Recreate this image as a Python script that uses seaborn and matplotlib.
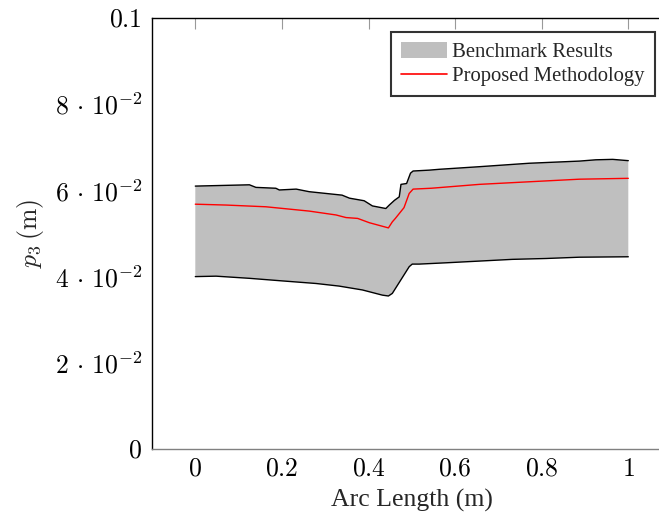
import numpy as np
import pandas as pd
import matplotlib
matplotlib.use("Agg")
import matplotlib.pyplot as plt
import seaborn as sns
from matplotlib.patches import Patch
from matplotlib.lines import Line2D

# Upper bound of benchmark band
upper_x = [0.0, 0.125, 0.140, 0.186, 0.194, 0.233, 0.263, 0.339, 0.356, 0.390, 0.409,
           0.440, 0.448, 0.460, 0.471, 0.475, 0.488, 0.497, 0.503, 0.540, 0.564, 0.656,
           0.771, 0.887, 0.925, 0.964, 1.0]
upper_y = [0.0610, 0.0613, 0.0607, 0.0605, 0.0601, 0.0603, 0.0597, 0.0589, 0.0582, 0.0576, 0.0564,
           0.0558, 0.0566, 0.0577, 0.0585, 0.0614, 0.0616, 0.0640, 0.0645, 0.0647, 0.0649, 0.0655,
           0.0663, 0.0668, 0.0671, 0.0672, 0.0669]
# Lower bound of benchmark band
lower_x = [0.0, 0.048, 0.125, 0.201, 0.279, 0.332, 0.386, 0.432, 0.446, 0.455, 0.494,
           0.501, 0.517, 0.579, 0.656, 0.732, 0.810, 0.887, 1.0]
lower_y = [0.0400, 0.0401, 0.0396, 0.0390, 0.0384, 0.0378, 0.0369, 0.0357, 0.0355, 0.0361, 0.0423,
           0.0429, 0.0429, 0.0432, 0.0436, 0.0440, 0.0442, 0.0445, 0.0446]
# Proposed methodology
prop_x = [0.0, 0.071, 0.163, 0.263, 0.325, 0.348, 0.375, 0.402, 0.446, 0.455, 0.462,
          0.482, 0.494, 0.503, 0.545, 0.656, 0.771, 0.887, 1.0]
prop_y = [0.0568, 0.0566, 0.0562, 0.0552, 0.0543, 0.0537, 0.0535, 0.0525, 0.0513, 0.0527, 0.0535,
          0.0560, 0.0593, 0.0603, 0.0605, 0.0614, 0.0620, 0.0626, 0.0628]

x_ticks = [0, 0.2, 0.4, 0.6, 0.8, 1.0]
x_tick_labels = ["$0$", "$0.2$", "$0.4$", "$0.6$", "$0.8$", "$1$"]
y_ticks = [0, 0.02, 0.04, 0.06, 0.08, 0.1]
y_tick_labels = ["$0$", r"$2\,\cdot\,10^{-2}$", r"$4\,\cdot\,10^{-2}$", r"$6\,\cdot\,10^{-2}$",
                 r"$8\,\cdot\,10^{-2}$", "$0.1$"]

sns.set_theme(style="white")
plt.rcParams["font.family"] = ["Liberation Serif", "DejaVu Serif"]
plt.rcParams["mathtext.fontset"] = "cm"

fig = plt.figure(figsize=(6.59, 5.17), dpi=100)
W, H = 659, 517
left_px, bottom_px, top_px = 152, 449, 18
px_per_x = 433.0
xmin, xmax = -0.1, 1.1
ax = fig.add_axes([left_px / W, (H - bottom_px) / H,
                   (xmax - xmin) * px_per_x / W, (bottom_px - top_px) / H])

poly_x = np.concatenate([upper_x, lower_x[::-1]])
poly_y = np.concatenate([upper_y, lower_y[::-1]])
ax.fill(poly_x, poly_y, color="#bfbfbf", lw=0, zorder=1)

up = pd.DataFrame({"x": upper_x, "y": upper_y})
lo = pd.DataFrame({"x": lower_x, "y": lower_y})
pr = pd.DataFrame({"x": prop_x, "y": prop_y})
sns.lineplot(data=up, x="x", y="y", ax=ax, color="black", lw=1.0, sort=False, zorder=2)
sns.lineplot(data=lo, x="x", y="y", ax=ax, color="black", lw=1.0, sort=False, zorder=2)
sns.lineplot(data=pr, x="x", y="y", ax=ax, color="red", lw=1.0, sort=False, zorder=3)

ax.set_xlim(xmin, xmax)
ax.set_ylim(0, 0.1)
ax.set_xticks(x_ticks)
ax.set_xticklabels(x_tick_labels)
ax.set_yticks(y_ticks)
ax.set_yticklabels(y_tick_labels)
ax.tick_params(axis="both", direction="in", length=8, width=0.8, color="#999999",
               labelsize=18.5, pad=7, top=True, right=True, labelcolor="black")
for s in ax.spines.values():
    s.set_color("black")
    s.set_linewidth(1.0)
ax.spines["bottom"].set_color("#808080")

ax.set_xlabel("Arc Length (m)", fontsize=18.5, labelpad=6)
ax.set_ylabel(r"$p_3\,(\mathrm{m})$", fontsize=18.5, labelpad=6)

handles = [Patch(facecolor="#bfbfbf", edgecolor="none", label="Benchmark Results"),
           Line2D([0], [0], color="red", lw=1.2, label="Proposed Methodology")]
leg = ax.legend(handles=handles, loc="upper right",
                bbox_to_anchor=(655 / W, (H - 32) / H), bbox_transform=fig.transFigure,
                frameon=True, fancybox=False, fontsize=14.9, borderpad=0.5,
                handlelength=2.2, handleheight=0.75, handletextpad=0.25,
                labelspacing=0.2, borderaxespad=0)
leg.get_frame().set_edgecolor("black")
leg.get_frame().set_linewidth(1.5)

fig.savefig("out.png", dpi=100)
